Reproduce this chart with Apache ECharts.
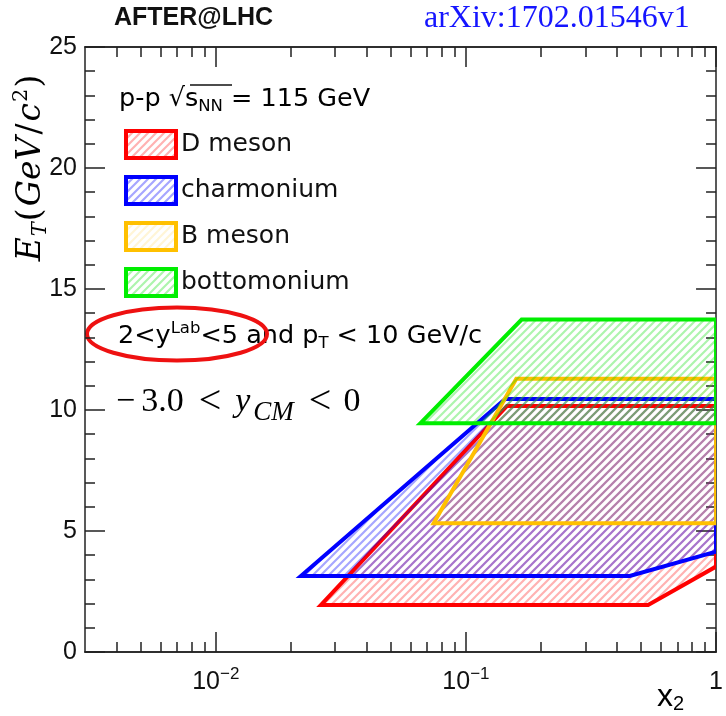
<!DOCTYPE html>
<html>
<head>
<meta charset="utf-8">
<script src="https://cdn.jsdelivr.net/npm/echarts@6/dist/echarts.min.js"></script>
<style>
  html, body { margin: 0; padding: 0; background: #fff; }
  #main { width: 726px; height: 716px; }
</style>
</head>
<body>
<div id="main"></div>
<script>
// x2 tick values (log axis)
var xMajorTicks = [0.01, 0.1, 1]
var xMinorTicks = [0.004, 0.005, 0.006, 0.007, 0.008, 0.009,
  0.02, 0.03, 0.04, 0.05, 0.06, 0.07, 0.08, 0.09,
  0.2, 0.3, 0.4, 0.5, 0.6, 0.7, 0.8, 0.9]
var xTickLabels = { '0.01': '{b|10}{s|−2}', '0.1': '{b|10}{s|−1}', '1': '{b|1}' }

// acceptance regions, vertices (x2, E_T)
var dMesonX = [0.0263, 0.146, 1, 1, 0.535]
var dMesonY = [1.94, 10.17, 10.17, 3.53, 1.94]
var charmX = [0.0219, 0.1435, 1, 1, 0.452]
var charmY = [3.14, 10.45, 10.45, 4.15, 3.14]
var bMesonX = [0.0743, 0.159, 1, 1]
var bMesonY = [5.32, 11.29, 11.29, 5.32]
var bottomX = [0.0657, 0.167, 1, 1]
var bottomY = [9.45, 13.74, 13.74, 9.45]

var names = ['D meson', 'charmonium', 'B meson', 'bottomonium']
var lineColors = ['#ff0000', '#0000ff', '#ffc000', '#00ee00']
var hatchColors = ['rgba(255,0,0,0.3)', 'rgba(0,0,255,0.35)', 'rgba(255,190,0,0.16)', 'rgba(0,220,0,0.32)']

var SANS = 'Liberation Sans, Arial, sans-serif'
var WIDE = 'DejaVu Sans, Liberation Sans, sans-serif'
var SERIF = 'Liberation Serif, Times New Roman, serif'

// diagonal hatch like ROOT fill style
function hatch (color) {
  var c = document.createElement('canvas')
  c.width = 8
  c.height = 8
  var ctx = c.getContext('2d')
  ctx.strokeStyle = color
  ctx.lineWidth = 2.2
  ctx.beginPath()
  ctx.moveTo(-2, 10); ctx.lineTo(10, -2)
  ctx.moveTo(-6, 6); ctx.lineTo(6, -6)
  ctx.moveTo(2, 14); ctx.lineTo(14, 2)
  ctx.stroke()
  return { image: c, repeat: 'repeat' }
}

function regionSeries (idx, xs, ys) {
  var fill = hatch(hatchColors[idx])
  return {
    name: names[idx],
    type: 'custom',
    clip: true,
    xAxisIndex: 0,
    yAxisIndex: 0,
    itemStyle: { color: fill, borderColor: lineColors[idx], borderWidth: 4 },
    data: xs.map(function (x, i) { return [x, ys[i]] }),
    renderItem: function (params, api) {
      if (params.dataIndex !== 0) return null
      var pts = xs.map(function (x, i) { return api.coord([x, ys[i]]) })
      var cs = params.coordSys
      return {
        type: 'polygon',
        shape: { points: pts },
        clipPath: { type: 'rect', shape: { x: cs.x, y: cs.y, width: cs.width, height: cs.height } },
        style: { fill: fill, stroke: lineColors[idx], lineWidth: 4, lineJoin: 'miter' }
      }
    }
  }
}

var axisLine = { show: true, lineStyle: { color: '#222', width: 1.5 } }

function xAxisOf (position, ticks, len, withLabels) {
  return {
    type: 'log',
    logBase: 10,
    min: 0.003,
    max: 1,
    position: position,
    axisLine: axisLine,
    splitLine: { show: false },
    axisTick: { show: true, inside: true, length: len, customValues: ticks, lineStyle: { color: '#222', width: 1.5 } },
    axisLabel: withLabels ? {
      show: true,
      customValues: ticks,
      margin: 14,
      formatter: function (v) { return xTickLabels[String(+v.toPrecision(6))] || '' },
      rich: {
        b: { fontFamily: SANS, fontSize: 25, color: '#111', lineHeight: 32, verticalAlign: 'middle' },
        s: { fontFamily: SANS, fontSize: 17, color: '#111', lineHeight: 16, verticalAlign: 'top' }
      }
    } : { show: false }
  }
}

function yAxisOf (position, withLabels) {
  return {
    type: 'value',
    min: 0,
    max: 25,
    interval: 5,
    position: position,
    axisLine: axisLine,
    splitLine: { show: false },
    axisTick: { show: true, inside: true, length: 20, lineStyle: { color: '#222', width: 1.5 } },
    minorTick: { show: true, splitNumber: 5, length: 10, lineStyle: { color: '#222', width: 1.5 } },
    axisLabel: withLabels ? { show: true, margin: 8, fontFamily: SANS, fontSize: 25, color: '#111' } : { show: false }
  }
}

var richText = {
  t: { fontFamily: WIDE, fontSize: 25.5, color: '#111', lineHeight: 32, verticalAlign: 'middle' },
  sub: { fontFamily: WIDE, fontSize: 16.5, color: '#111', lineHeight: 16, verticalAlign: 'bottom' },
  sup: { fontFamily: WIDE, fontSize: 16.5, color: '#111', lineHeight: 18, verticalAlign: 'top' },
  m: { fontFamily: SERIF, fontSize: 34, color: '#111', lineHeight: 48, verticalAlign: 'middle' },
  m2: { fontFamily: SERIF, fontSize: 34, color: '#111', lineHeight: 48, verticalAlign: 'middle', padding: [0, 0, 0, 6] },
  op: { fontFamily: SERIF, fontSize: 40, color: '#111', lineHeight: 48, verticalAlign: 'middle', padding: [0, 12, 0, 15] },
  mi: { fontFamily: SERIF, fontStyle: 'italic', fontSize: 34, color: '#111', lineHeight: 48, verticalAlign: 'middle', padding: [0, 3, 0, 2] },
  msub: { fontFamily: SERIF, fontStyle: 'italic', fontSize: 27, color: '#111', lineHeight: 26, verticalAlign: 'bottom' }
}

var chart = echarts.init(document.getElementById('main'))
var option = {
  animation: false,
  backgroundColor: '#fff',
  grid: { left: 85, right: 6, top: 47, bottom: 64, containLabel: false },
  xAxis: [
    xAxisOf('bottom', xMajorTicks, 20, true),
    xAxisOf('bottom', xMinorTicks, 10, false),
    xAxisOf('top', xMajorTicks, 20, false),
    xAxisOf('top', xMinorTicks, 10, false)
  ],
  yAxis: [yAxisOf('left', true), yAxisOf('right', false)],
  legend: {
    orient: 'vertical',
    left: 124,
    top: 129,
    padding: 0,
    itemWidth: 50,
    itemHeight: 27,
    itemGap: 15,
    itemTextGap: 12,
    selectedMode: false,
    icon: 'rect',
    textStyle: { fontFamily: WIDE, fontSize: 25, lineHeight: 27, color: '#111' },
    data: names.map(function (n, i) {
      return { name: n, itemStyle: { color: hatch(hatchColors[i]), borderColor: lineColors[i], borderWidth: 4 } }
    })
  },
  graphic: [
    { type: 'text', left: 114, top: 6, style: { text: 'AFTER@LHC', font: 'bold 25px ' + SANS, fill: '#111' } },
    { type: 'text', left: 424, top: 3, style: { text: 'arXiv:1702.01546v1', font: '32px ' + SERIF, fill: '#1515ff' } },
    {
      type: 'text', x: 31, y: 168, rotation: Math.PI / 2,
      style: {
        text: '{i|E}{s|T}{n|(}{i|GeV}{n|/}{i|c}{p|2}{n|)}',
        align: 'center', verticalAlign: 'middle',
        rich: {
          i: { fontFamily: 'DejaVu Serif, serif', fontStyle: 'italic', fontSize: 33, color: '#111', lineHeight: 40, verticalAlign: 'middle', padding: [0, 1] },
          n: { fontFamily: 'DejaVu Serif, serif', fontSize: 33, color: '#111', lineHeight: 40, verticalAlign: 'middle', padding: [0, 1] },
          s: { fontFamily: 'DejaVu Serif, serif', fontStyle: 'italic', fontSize: 21, color: '#111', lineHeight: 20, verticalAlign: 'bottom' },
          p: { fontFamily: 'DejaVu Serif, serif', fontSize: 21, color: '#111', lineHeight: 20, verticalAlign: 'top' }
        }
      }
    },
    {
      type: 'text', x: 119, y: 99,
      style: { text: '{t|p-p √s}{sub|NN}{t| = 115 GeV}', verticalAlign: 'middle', rich: richText }
    },
    { type: 'line', shape: { x1: 190, y1: 85, x2: 232, y2: 85 }, style: { stroke: '#111', lineWidth: 1.3 } },
    {
      type: 'text', x: 118, y: 336,
      style: { text: '{t|2<y}{sup|Lab}{t|<5 and p}{sub|T}{t| < 10 GeV/c}', verticalAlign: 'middle', rich: richText }
    },
    {
      type: 'text', x: 116, y: 402,
      style: { text: '{m|−}{m2|3.0}{op|<}{mi|y}{msub|CM}{op|<}{m|0}', verticalAlign: 'middle', rich: richText }
    },
    { type: 'ellipse', shape: { cx: 177, cy: 334, rx: 90, ry: 26.5 }, style: { fill: null, stroke: '#ee1111', lineWidth: 4 } },
    {
      type: 'text', x: 657, y: 697,
      style: {
        text: '{x|x}{s|2}', verticalAlign: 'middle',
        rich: {
          x: { fontFamily: SANS, fontSize: 32, color: '#111', lineHeight: 34, verticalAlign: 'middle' },
          s: { fontFamily: SANS, fontSize: 20, color: '#111', lineHeight: 20, verticalAlign: 'bottom' }
        }
      }
    }
  ],
  series: [
    regionSeries(0, dMesonX, dMesonY),
    regionSeries(1, charmX, charmY),
    regionSeries(2, bMesonX, bMesonY),
    regionSeries(3, bottomX, bottomY)
  ]
}
chart.setOption(option)
</script>
</body>
</html>
